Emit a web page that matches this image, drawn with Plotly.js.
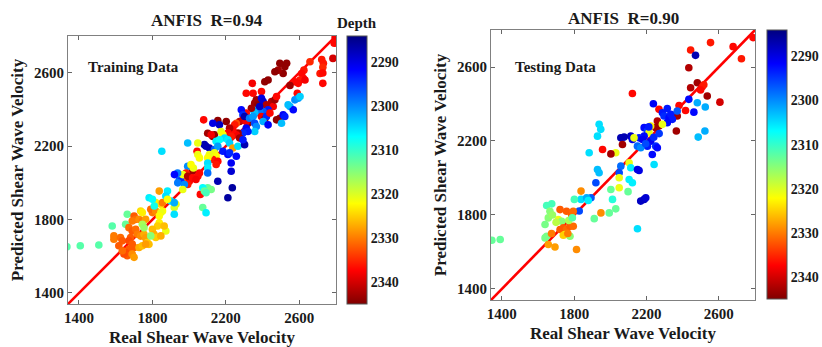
<!DOCTYPE html>
<html>
<head>
<meta charset="utf-8">
<script src="https://cdn.plot.ly/plotly-3.0.1.min.js"></script>
<style>
  html, body { margin: 0; padding: 0; background: #fff; }
  #chart { width: 822px; height: 347px; }
</style>
</head>
<body>
<div id="chart"></div>
<script>
// ANFIS predicted vs. real shear wave velocity, coloured by depth.

// Training set
const trainReal = [
  2795,2790,2783,2722,2731,2728,2713,2728,2728,2658,
  2625,2613,2622,2604,2594,2631,2576,2549,2589,2521,
  2531,2494,2512,2485,2467,2430,2412,2344,2311,2348,
  2394,2366,2357,2375,2394,2403,2421,2449,2458,2467,
  2476,2430,2403,2384,2348,2357,2384,2339,2311,2284,
  2293,2476,2494,2512,2521,2503,2549,2567,2576,2594,
  2604,2394,2412,2421,2403,2430,2440,2539,2079,2156,
  2202,2165,2129,2275,2293,2320,2311,2302,2329,2348,
  2357,2366,2357,2311,2320,2293,2257,2248,2266,2257,
  2275,2238,2220,2211,2229,2138,2129,2174,2184,2193,
  2211,2220,2147,2165,2101,2120,2083,2092,2110,2238,
  2266,2302,2293,2138,2156,2184,2211,2220,2257,2047,
  1992,2043,2138,2147,2129,2156,2147,2110,2101,2229,
  2229,2235,2211,2156,2047,2056,2101,2101,2101,2019,
  2056,2047,1992,1983,1974,1947,1955,1938,2001,1992,
  1965,1974,2061,2101,2120,2074,2074,2092,1851,2023,
  2010,1334,1407,1508,1581,1590,1590,1663,1654,1626,
  1636,1617,1700,1709,1690,1727,1745,1763,1736,1745,
  1800,1791,1818,1818,1846,1855,1782,1800,1837,1882,
  1873,1928,1919,1919,1846,1837,1837,1828,1672,1690,
  1709,1718,1736,1754,1763,1772,1800,1809,1818,1781,
  1681,1672,1690,1700,1672,1654,1663,1645,1636,1690,
  1700,1727,1745,1763,1873,1864,1846,1791,1745,1754,
  1900,1919,1965,1992,2019,2037,1937,1920,2083,2092,
  1855,1810,1882
];
const trainPred = [
  2792,2760,2678,2672,2651,2630,2596,2598,2542,2660,
  2614,2596,2569,2560,2542,2560,2551,2530,2488,2633,
  2651,2651,2596,2614,2605,2560,2551,2542,2488,2488,
  2497,2452,2434,2425,2461,2443,2425,2443,2416,2452,
  2470,2398,2389,2389,2398,2380,2416,2406,2380,2398,
  2370,2343,2352,2370,2361,2325,2416,2398,2452,2461,
  2470,2361,2348,2361,2334,2316,2380,2425,2343,2340,
  2334,2316,2325,2334,2343,2325,2334,2361,2352,2361,
  2325,2307,2280,2298,2280,2271,2325,2316,2271,2262,
  2244,2289,2298,2271,2253,2262,2253,2280,2262,2244,
  2235,2217,2226,2235,2270,2262,2208,2199,2190,2190,
  2199,2208,2235,2181,2199,2172,2154,2163,2145,2217,
  2217,2172,2163,2145,2127,2118,2100,2154,2136,2108,
  2063,1973,1919,2009,2154,2136,2108,2081,2054,2063,
  2054,2036,2090,2054,2027,2018,2009,2000,2009,1991,
  2045,1991,1937,1973,1964,1973,1865,1837,2172,2081,
  2099,1652,1657,1661,1765,1711,1693,1829,1774,1702,
  1684,1657,1819,1801,1792,1801,1792,1801,1847,1838,
  1838,1856,1847,1892,1883,1847,1919,1910,1955,1955,
  1928,1883,1865,1829,1838,1819,1783,1765,1756,1738,
  1747,1720,1710,1720,1700,1675,1747,1720,1702,1665,
  1702,1684,1666,1648,1639,1620,1603,1612,1630,1612,
  1594,1648,1657,1666,1738,1765,1711,1711,1774,1756,
  1901,1892,1964,2036,2027,2018,2054,2045,1955,1946,
  1892,1874,1910
];
const trainDepth = [
  2338,2337,2340,2336,2336,2335,2336,2337,2337,2335,
  2336,2337,2337,2336,2337,2338,2337,2343,2337,2344,
  2344,2344,2344,2343,2344,2344,2344,2338,2337,2337,
  2337,2343,2343,2344,2290,2289,2342,2342,2338,2343,
  2337,2293,2297,2299,2301,2303,2288,2343,2337,2292,
  2294,2344,2344,2291,2293,2303,2302,2292,2300,2301,
  2304,2338,2343,2294,2302,2291,2337,2303,2337,2344,
  2344,2288,2290,2342,2340,2344,2338,2287,2299,2301,
  2296,2300,2304,2291,2293,2294,2333,2336,2343,2338,
  2343,2337,2342,2337,2336,2344,2344,2321,2322,2305,
  2306,2304,2306,2307,2343,2338,2287,2287,2287,2328,
  2305,2287,2293,2297,2301,2293,2292,2294,2292,2321,
  2303,2337,2321,2322,2336,2337,2336,2321,2322,2291,
  2289,2286,2286,2287,2321,2322,2305,2306,2298,2343,
  2337,2337,2300,2336,2330,2297,2294,2299,2337,2336,
  2321,2300,2337,2313,2314,2307,2313,2306,2305,2321,
  2322,2312,2312,2312,2312,2330,2330,2313,2313,2331,
  2332,2332,2332,2331,2330,2329,2330,2328,2324,2323,
  2330,2331,2329,2323,2324,2322,2306,2307,2328,2306,
  2305,2321,2320,2305,2321,2322,2323,2325,2331,2332,
  2331,2330,2329,2327,2328,2325,2326,2327,2325,2326,
  2332,2333,2332,2332,2332,2333,2332,2333,2331,2329,
  2328,2327,2326,2328,2321,2326,2327,2315,2317,2316,
  2305,2302,2321,2342,2337,2338,2299,2292,2313,2311,
  2330,2308,2322
];

// Testing set
const testReal = [
  2789,2679,2554,2725,2444,2471,2434,2481,2444,2508,
  2517,2499,2536,2606,2481,2525,2434,2462,2380,2416,
  2370,2365,2486,2523,2122,2238,2269,2315,2288,2297,
  2325,2334,2370,2343,2315,2260,2269,2251,2288,2223,
  2187,2205,2214,2187,2223,2205,2251,2260,2150,2168,
  2113,2122,2058,2076,2067,2159,2178,2131,2232,2242,
  2030,2003,1957,1938,1947,1929,1883,1929,1938,1920,
  1893,1838,1828,1838,1948,1911,2003,2012,1994,2030,
  2058,2049,2049,2049,2104,2113,2104,2122,2098,2150,
  2159,2168,2187,2196,2150,1801,1345,1391,1648,1676,
  1666,1657,1639,1648,1639,1722,1758,1786,1795,1713,
  1731,1722,1740,1758,1777,1795,1749,1777,1657,1694,
  1813,1869,1878,1680,1700,1770,1790,1675,1740,1765,
  2213,2195,2240,2270
];
const testPred = [
  2759,2710,2732,2645,2692,2663,2596,2515,2488,2493,
  2504,2476,2443,2410,2407,2384,2425,2356,2392,2365,
  2335,2254,2221,2254,2457,2401,2371,2375,2353,2335,
  2326,2344,2362,2317,2299,2308,2281,2272,2290,2281,
  2272,2254,2245,2226,2199,2172,2172,2163,2172,2163,
  2226,2208,2217,2221,2181,2217,2208,2217,2127,2073,
  2136,2130,2154,2290,2263,2226,2136,2046,2028,1974,
  1893,1884,1821,1929,1811,1780,1938,1884,1811,1833,
  2064,2028,2001,1947,2082,2055,1992,1974,1926,2046,
  2040,1875,1884,1893,1725,1884,1663,1667,1851,1860,
  1820,1784,1748,1685,1676,1829,1820,1802,1820,1775,
  1766,1721,1730,1721,1739,1739,1694,1685,1640,1627,
  1613,1893,1878,1800,1760,1770,1785,1700,1690,1700,
  2276,2185,2220,2240
];
const testDepth = [
  2337,2337,2336,2336,2336,2287,2342,2343,2342,2337,
  2336,2337,2343,2340,2302,2302,2292,2292,2337,2337,
  2343,2343,2303,2302,2337,2291,2337,2293,2293,2294,
  2292,2293,2297,2293,2292,2342,2343,2343,2321,2323,
  2292,2295,2321,2292,2291,2293,2294,2292,2298,2300,
  2288,2290,2287,2287,2343,2293,2291,2321,2292,2305,
  2321,2343,2337,2305,2305,2305,2305,2303,2303,2296,
  2297,2305,2296,2329,2329,2313,2313,2309,2313,2313,
  2298,2296,2321,2321,2321,2306,2306,2306,2313,2290,
  2290,2288,2288,2289,2305,2311,2313,2313,2311,2311,
  2315,2315,2314,2314,2314,2332,2332,2332,2331,2321,
  2315,2332,2332,2331,2332,2331,2321,2315,2328,2328,
  2329,2302,2306,2316,2318,2317,2312,2330,2325,2330,
  2293,2296,2294,2295
];

// Axis / colour bar settings
const velocityRange = [1340, 2800];
const velocityTicks = [1400, 1800, 2200, 2600];
const depthRange = [2284, 2345];
const depthTicks = [2290, 2300, 2310, 2320, 2330, 2340];

const FONT = 'Liberation Serif, "Times New Roman", Times, serif';
const INK = '#1a1a1a';

// Depth increases downwards on the colour bar: plot the negated depth so the
// bar runs dark red (deep) at the bottom to dark blue (shallow) at the top.
const jetDeepLow = [
  [0.000, 'rgb(128,0,0)'],
  [0.125, 'rgb(255,0,0)'],
  [0.375, 'rgb(255,255,0)'],
  [0.625, 'rgb(0,255,255)'],
  [0.875, 'rgb(0,0,255)'],
  [1.000, 'rgb(0,0,128)']
];
const neg = a => a.map(v => -v);

function colorbar(x, yTop, len) {
  return {
    x: x, xanchor: 'left', xpad: 0,
    y: yTop, yanchor: 'top', ypad: 0,
    len: len, lenmode: 'fraction',
    thickness: 20, thicknessmode: 'pixels',
    outlinewidth: 1, outlinecolor: '#555',
    tickvals: neg(depthTicks),
    ticktext: depthTicks.map(String),
    ticks: '', ticklabelpad: 6,
    tickfont: { family: FONT, size: 14, color: INK, weight: 'bold' }
  };
}

function scatter(xs, ys, depth, xa, ya, cb) {
  return {
    type: 'scatter', mode: 'markers',
    x: xs, y: ys, xaxis: xa, yaxis: ya,
    marker: {
      size: 7.6,
      color: neg(depth),
      cmin: -depthRange[1], cmax: -depthRange[0],
      colorscale: jetDeepLow,
      line: { width: 0 },
      showscale: true,
      colorbar: cb
    },
    hoverinfo: 'skip', showlegend: false
  };
}

function fitLine(xa, ya) {
  return {
    type: 'scatter', mode: 'lines',
    x: velocityRange, y: velocityRange, xaxis: xa, yaxis: ya,
    line: { color: 'rgb(255,0,0)', width: 2.6 },
    hoverinfo: 'skip', showlegend: false
  };
}

const data = [
  fitLine('x', 'y'),
  scatter(trainReal, trainPred, trainDepth, 'x', 'y', colorbar(0.4221, 0.8963, 0.7723)),
  fitLine('x2', 'y2'),
  scatter(testReal, testPred, testDepth, 'x2', 'y2', colorbar(0.9331, 0.9135, 0.7752))
];

function axis(domain, anchor, title, standoff) {
  return {
    domain: domain, anchor: anchor,
    range: velocityRange, tickvals: velocityTicks,
    showgrid: false, zeroline: false,
    showline: true, linecolor: '#808080', linewidth: 1,
    mirror: 'ticks', ticks: 'inside', ticklen: 4, tickcolor: '#666',
    tickfont: { family: FONT, size: 15, color: INK, weight: 'bold' },
    title: { text: title, standoff: standoff,
             font: { family: FONT, size: 17, color: INK, weight: 'bold' } },
    automargin: false
  };
}

const textFont = (size) => ({ family: FONT, size: size, color: INK, weight: 'bold' });

const layout = {
  width: 822, height: 347,
  margin: { l: 0, r: 0, t: 0, b: 0 },
  paper_bgcolor: '#fff', plot_bgcolor: '#fff',
  font: { family: FONT, color: INK, weight: 'bold' },
  xaxis:  axis([0.0827, 0.4088], 'y',  'Real Shear Wave Velocity', 6),
  yaxis:  axis([0.1239, 0.8963], 'x',  'Predicted Shear Wave Velocity', 6),
  xaxis2: axis([0.5973, 0.9185], 'y2', 'Real Shear Wave Velocity', 6),
  yaxis2: axis([0.1354, 0.9135], 'x2', 'Predicted Shear Wave Velocity', 6),
  annotations: [
    { text: 'ANFIS  R=0.94', xref: 'paper', yref: 'paper', x: 0.2518, y: 0.9403,
      xanchor: 'center', yanchor: 'middle', showarrow: false, font: textFont(17) },
    { text: 'ANFIS  R=0.90', xref: 'paper', yref: 'paper', x: 0.7591, y: 0.948,
      xanchor: 'center', yanchor: 'middle', showarrow: false, font: textFont(17) },
    { text: 'Training Data', xref: 'paper', yref: 'paper', x: 0.1046, y: 0.807,
      xanchor: 'left', yanchor: 'middle', showarrow: false, font: textFont(15) },
    { text: 'Testing Data', xref: 'paper', yref: 'paper', x: 0.6241, y: 0.8078,
      xanchor: 'left', yanchor: 'middle', showarrow: false, font: textFont(15) },
    { text: 'Depth', xref: 'paper', yref: 'paper', x: 0.4343, y: 0.9337,
      xanchor: 'center', yanchor: 'middle', showarrow: false, font: textFont(15) }
  ]
};

Plotly.newPlot('chart', data, layout, { displayModeBar: false, staticPlot: true });
</script>
</body>
</html>
